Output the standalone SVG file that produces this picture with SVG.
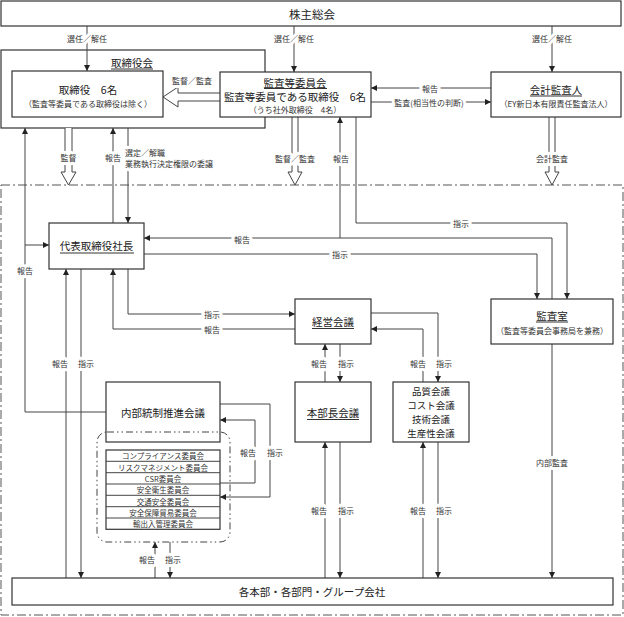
<svg xmlns="http://www.w3.org/2000/svg" width="624" height="617" viewBox="0 0 624 617">
<style>
.bx{fill:#fff;stroke:#333;stroke-width:1.2}
.ln{fill:none;stroke:#444;stroke-width:1}
.ha{fill:#fff;stroke:#444;stroke-width:1}
.t{font-family:"Noto Sans CJK JP",sans-serif;font-size:10.5px;fill:#222;text-anchor:middle;dominant-baseline:central}
.s{font-family:"Noto Sans CJK JP",sans-serif;font-size:8px;fill:#333;text-anchor:middle;dominant-baseline:central}
.lb{font-family:"Noto Sans CJK JP",sans-serif;font-size:8px;fill:#333;text-anchor:middle;dominant-baseline:central;stroke:#fff;stroke-width:6px;paint-order:stroke;stroke-linejoin:round}
.c{font-family:"Noto Sans CJK JP",sans-serif;font-size:7.5px;fill:#333;text-anchor:middle;dominant-baseline:central}
.ul{stroke:#333;stroke-width:1}
</style>
<defs>
<marker id="ah" viewBox="0 0 10 10" refX="10" refY="5" markerWidth="6" markerHeight="6" orient="auto" markerUnits="userSpaceOnUse"><path d="M0,0 L10,5 L0,10 z" fill="#222"/></marker>
</defs>
<rect id="region" x="1" y="185" width="622" height="430" fill="none" stroke="#555" stroke-width="1" stroke-dasharray="9,3,2,3"/>
<g id="board">
<rect class="bx" x="1" y="50" width="264" height="78"/>
<text class="t" x="132" y="62">取締役会</text>
<line class="ul" x1="111" y1="69" x2="153" y2="69"/>
</g>
<g id="connectors">
<path class="ln" d="M87,26 V71" marker-end="url(#ah)"/>
<path class="ln" d="M294,26 V72" marker-end="url(#ah)"/>
<path class="ln" d="M552,26 V72" marker-end="url(#ah)"/>
<path class="ln" d="M491,88 H371" marker-end="url(#ah)"/>
<path class="ln" d="M371,102 H491" marker-end="url(#ah)"/>
<path class="ha" d="M220,93 H178 V87 L163,97 L178,107 V101 H220"/>
<path class="ha" d="M65,128 V172 H61 L68.5,185 L76,172 H72 V128"/>
<path class="ha" d="M292,117 V172 H288 L295,185 L302,172 H298 V117"/>
<path class="ha" d="M549,117 V172 H545 L552,185 L559,172 H555 V117"/>
<path class="ln" d="M113,223 V128" marker-end="url(#ah)"/>
<path class="ln" d="M128,128 V223" marker-end="url(#ah)"/>
<path class="ln" d="M106,412 H25 V128" marker-end="url(#ah)"/>
<path class="ln" d="M25,245 H49" marker-end="url(#ah)"/>
<path class="ln" d="M552,299 V238 H144" marker-end="url(#ah)"/>
<path class="ln" d="M340,238 V117" marker-end="url(#ah)"/>
<path class="ln" d="M356,117 V223 H567 V299" marker-end="url(#ah)"/>
<path class="ln" d="M144,254 H537 V299" marker-end="url(#ah)"/>
<path class="ln" d="M128,269 V314 H295" marker-end="url(#ah)"/>
<path class="ln" d="M295,329 H113 V269" marker-end="url(#ah)"/>
<path class="ln" d="M325,382 V344" marker-end="url(#ah)"/>
<path class="ln" d="M340,344 V382" marker-end="url(#ah)"/>
<path class="ln" d="M423,382 V329 H371" marker-end="url(#ah)"/>
<path class="ln" d="M371,313 H438 V382" marker-end="url(#ah)"/>
<path class="ln" d="M66,578 V269" marker-end="url(#ah)"/>
<path class="ln" d="M81,269 V578" marker-end="url(#ah)"/>
<path class="ln" d="M325,578 V442" marker-end="url(#ah)"/>
<path class="ln" d="M340,442 V578" marker-end="url(#ah)"/>
<path class="ln" d="M423,578 V442" marker-end="url(#ah)"/>
<path class="ln" d="M438,442 V578" marker-end="url(#ah)"/>
<path class="ln" d="M552,344 V578" marker-end="url(#ah)"/>
<path class="ln" d="M220,483 H255 V420 H220" marker-end="url(#ah)"/>
<path class="ln" d="M220,404 H270 V497 H220" marker-end="url(#ah)"/>
<path class="ln" d="M155,578 V542" marker-end="url(#ah)"/>
<path class="ln" d="M170,542 V578" marker-end="url(#ah)"/>
</g>
<g id="shareholders">
<rect class="bx" x="1" y="1" width="620" height="25"/>
<text class="t" x="312" y="14" style="font-size:11.5px">株主総会</text>
</g>
<g id="directors">
<rect class="bx" x="12" y="71" width="151" height="46"/>
<text class="t" x="88" y="89">取締役　6名</text>
<text class="s" x="88" y="103">（監査等委員である取締役は除く）</text>
</g>
<g id="audit-committee">
<rect class="bx" x="220" y="72" width="151" height="45"/>
<text class="t" x="295" y="82">監査等委員会</text>
<line class="ul" x1="264" y1="88.5" x2="327" y2="88.5"/>
<text class="t" x="295" y="96">監査等委員である取締役　6名</text>
<text class="s" x="295" y="109">（うち社外取締役　4名）</text>
</g>
<g id="accounting-auditor">
<rect class="bx" x="491" y="72" width="130" height="45"/>
<text class="t" x="556" y="89">会計監査人</text>
<line class="ul" x1="530" y1="96" x2="582" y2="96"/>
<text class="s" x="556" y="103">（EY新日本有限責任監査法人）</text>
</g>
<g id="president">
<rect class="bx" x="49" y="223" width="95" height="46"/>
<text class="t" x="96.5" y="245">代表取締役社長</text>
<line class="ul" x1="60" y1="253" x2="134" y2="253"/>
</g>
<g id="management-meeting">
<rect class="bx" x="295" y="299" width="76" height="45"/>
<text class="t" x="333" y="321">経営会議</text>
<line class="ul" x1="312" y1="328.5" x2="354" y2="328.5"/>
</g>
<g id="audit-office">
<rect class="bx" x="491" y="299" width="122" height="45"/>
<text class="t" x="552" y="315">監査室</text>
<line class="ul" x1="536" y1="322" x2="568" y2="322"/>
<text class="s" x="552" y="330">（監査等委員会事務局を兼務）</text>
</g>
<g id="division-heads">
<rect class="bx" x="295" y="382" width="76" height="60"/>
<text class="t" x="333" y="412">本部長会議</text>
<line class="ul" x1="307" y1="419.5" x2="359" y2="419.5"/>
</g>
<g id="quality-meetings">
<rect class="bx" x="393" y="382" width="76" height="60"/>
<text class="t" x="431" y="391" style="font-size:9.5px">品質会議</text>
<text class="t" x="431" y="405" style="font-size:9.5px">コスト会議</text>
<text class="t" x="431" y="419" style="font-size:9.5px">技術会議</text>
<text class="t" x="431" y="433" style="font-size:9.5px">生産性会議</text>
</g>
<g id="internal-control">
<rect class="bx" x="106" y="382" width="114" height="60"/>
<text class="t" x="163" y="412">内部統制推進会議</text>
</g>
<g id="committees">
<rect x="97" y="432" width="133" height="110" rx="10" fill="none" stroke="#444" stroke-width="1" stroke-dasharray="7,3,1.5,3,1.5,3"/>
<rect class="bx" x="106" y="450" width="114" height="79.3"/>
<path class="ln" d="M106,461.3 H220 M106,472.7 H220 M106,484 H220 M106,495.3 H220 M106,506.7 H220 M106,518 H220"/>
<text class="c" x="163" y="455.7">コンプライアンス委員会</text>
<text class="c" x="163" y="467">リスクマネジメント委員会</text>
<text class="c" x="163" y="478.3">CSR委員会</text>
<text class="c" x="163" y="489.7">安全衛生委員会</text>
<text class="c" x="163" y="501">交通安全委員会</text>
<text class="c" x="163" y="512.3">安全保障貿易委員会</text>
<text class="c" x="163" y="523.7">輸出入管理委員会</text>
</g>
<g id="divisions">
<rect class="bx" x="12" y="578" width="601" height="27"/>
<text class="t" x="312" y="591">各本部・各部門・グループ会社</text>
</g>
<g id="labels">
<text class="lb" x="87" y="38">選任／解任</text>
<text class="lb" x="294" y="38">選任／解任</text>
<text class="lb" x="552" y="38">選任／解任</text>
<text class="lb" x="192" y="80">監督／監査</text>
<text class="lb" x="430" y="88">報告</text>
<text class="lb" x="429" y="102">監査(相当性の判断)</text>
<text class="lb" x="68.5" y="157">監督</text>
<text class="lb" x="113" y="157">報告</text>
<text class="lb" x="125" y="152" style="text-anchor:start">選定／解職</text>
<text class="lb" x="125" y="163" style="text-anchor:start">業務執行決定権限の委譲</text>
<text class="lb" x="295" y="158">監督／監査</text>
<text class="lb" x="341" y="158">報告</text>
<text class="lb" x="552" y="158">会計監査</text>
<text class="lb" x="461" y="223">指示</text>
<text class="lb" x="242" y="239">報告</text>
<text class="lb" x="340" y="254">指示</text>
<text class="lb" x="25" y="270">報告</text>
<text class="lb" x="212" y="314">指示</text>
<text class="lb" x="212" y="329">報告</text>
<text class="lb" x="60" y="363">報告</text>
<text class="lb" x="86" y="363">指示</text>
<text class="lb" x="319" y="363">報告</text>
<text class="lb" x="346" y="363">指示</text>
<text class="lb" x="418" y="363">報告</text>
<text class="lb" x="444" y="363">指示</text>
<text class="lb" x="319" y="510">報告</text>
<text class="lb" x="346" y="510">指示</text>
<text class="lb" x="418" y="510">報告</text>
<text class="lb" x="444" y="510">指示</text>
<text class="lb" x="552" y="462">内部監査</text>
<text class="lb" x="248" y="452">報告</text>
<text class="lb" x="275" y="452">指示</text>
<text class="lb" x="147" y="559">報告</text>
<text class="lb" x="173" y="559">指示</text>
</g>
</svg>
